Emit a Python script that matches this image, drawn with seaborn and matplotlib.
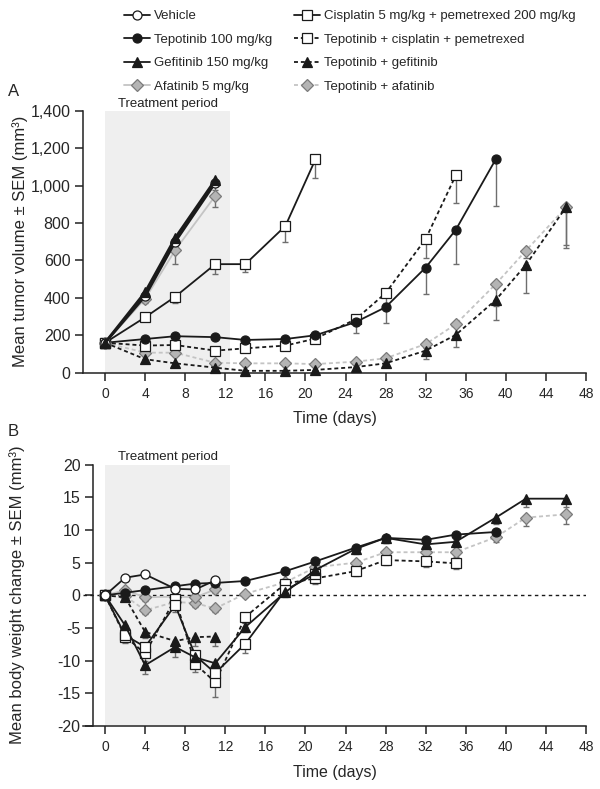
import numpy as np
import matplotlib
matplotlib.use("Agg")
import matplotlib.pyplot as plt
from matplotlib.lines import Line2D
from matplotlib.ticker import StrMethodFormatter
import seaborn as sns

sns.set_style("ticks")
plt.rcParams["font.family"] = ["Liberation Sans", "DejaVu Sans"]
plt.rcParams["axes.unicode_minus"] = False

# ---------- panel A: tumor volume (mm3), error = SEM (drawn downward) ----------
a_days_short = [0, 4, 7, 11]
a_vehicle = [160, 410, 700, 1015]
a_vehicle_err = [5, 15, 30, 40]
a_gefitinib = [160, 430, 720, 1030]
a_gefitinib_err = [5, 15, 25, 35]
a_afatinib = [160, 395, 655, 945]
a_afatinib_err = [5, 20, 75, 57]

a_days_cis = [0, 4, 7, 11, 14, 18, 21]
a_cisplatin = [160, 296, 406, 580, 580, 784, 1140]
a_cisplatin_err = [5, 15, 35, 50, 40, 85, 100]

a_days_tep = [0, 4, 7, 11, 14, 18, 21, 25, 28, 32, 35, 39]
a_tepotinib = [160, 180, 195, 190, 175, 180, 200, 270, 350, 562, 763, 1141]
a_tepotinib_err = [5, 8, 8, 8, 8, 8, 10, 60, 85, 140, 180, 250]

a_days_tepcis = [0, 4, 7, 11, 14, 18, 21, 25, 28, 32, 35]
a_tep_cis = [160, 145, 148, 118, 130, 145, 182, 285, 425, 715, 1054]
a_tep_cis_err = [5, 8, 8, 8, 8, 8, 10, 25, 55, 100, 145]

a_days_long = [0, 4, 7, 11, 14, 18, 21, 25, 28, 32, 35, 39, 42, 46]
a_tep_gef = [160, 72, 50, 27, 10, 10, 15, 30, 50, 118, 202, 389, 576, 884]
a_tep_gef_err = [5, 8, 8, 5, 3, 3, 4, 8, 12, 45, 65, 110, 150, 220]
a_tep_afa = [160, 107, 107, 53, 50, 50, 46, 59, 77, 153, 259, 474, 652, 883]
a_tep_afa_err = [5, 10, 10, 8, 5, 5, 5, 8, 10, 20, 60, 120, 40, 200]

# ---------- panel B: body weight change ----------
b_days_short = [0, 2, 4, 7, 9, 11]
b_vehicle = [0, 2.7, 3.2, 1.0, 0.9, 2.3]
b_vehicle_err = [0, 0.5, 0.6, 0.6, 0.6, 0.6]
b_afatinib = [0, 0.8, -0.3, -0.2, -0.3, 0.9]
b_afatinib_err = [0, 0.5, 0.6, 0.6, 0.6, 0.6]
b_tep_gef = [0, -0.3, -5.6, -7.0, -6.4, -6.3]
b_tep_gef_err = [0, 0.6, 1.0, 1.2, 1.3, 1.4]

b_days_cis = [0, 2, 4, 7, 9, 11, 14, 18, 21]
b_cisplatin = [0, -6.1, -7.9, -1.5, -9.2, -11.9, -7.4, 0.8, 3.3]
b_cisplatin_err = [0, 1.0, 1.2, 1.0, 1.2, 1.2, 1.5, 0.8, 0.8]

b_days_tepcis = [0, 2, 4, 7, 9, 11, 14, 18, 21, 25, 28, 32, 35]
b_tep_cis = [0, -6.3, -8.9, -0.5, -10.5, -13.3, -3.3, 1.8, 2.6, 3.7, 5.4, 5.2, 4.9]
b_tep_cis_err = [0, 1.0, 1.2, 1.0, 1.2, 2.2, 1.0, 0.8, 0.8, 0.8, 0.8, 0.8, 0.8]

b_days_tep = [0, 2, 4, 7, 9, 11, 14, 18, 21, 25, 28, 32, 35, 39]
b_tepotinib = [0, 0.4, 0.8, 1.4, 1.8, 1.9, 2.2, 3.7, 5.2, 7.3, 8.8, 8.5, 9.3, 9.7]
b_tepotinib_err = [0, 0.4, 0.5, 0.5, 0.5, 0.5, 0.5, 0.5, 0.6, 0.8, 0.8, 0.8, 0.8, 0.8]

b_days_long = [0, 2, 4, 7, 9, 11, 14, 18, 21, 25, 28, 32, 35, 39, 42, 46]
b_gefitinib = [0, -4.6, -10.7, -7.9, -9.5, -10.4, -4.85, 0.5, 3.9, 7.1, 8.8, 7.8, 8.2, 11.9, 14.8, 14.8]
b_gefitinib_err = [0, 0.8, 1.4, 1.6, 1.2, 1.0, 0.8, 0.8, 0.8, 0.8, 0.8, 0.8, 0.8, 1.0, 1.2, 1.2]
b_tep_afa = [0, -0.1, -2.3, -1.0, -1.2, -2.0, 0.25, 2.0, 4.3, 5.0, 6.6, 6.6, 6.6, 8.9, 11.9, 12.4]
b_tep_afa_err = [0, 0.5, 0.6, 0.6, 0.6, 0.6, 0.5, 0.6, 0.8, 0.8, 0.8, 0.8, 0.8, 0.8, 1.3, 1.5]

labels = ["Vehicle", "Tepotinib 100 mg/kg", "Gefitinib 150 mg/kg", "Afatinib 5 mg/kg",
          "Cisplatin 5 mg/kg + pemetrexed 200 mg/kg", "Tepotinib + cisplatin + pemetrexed",
          "Tepotinib + gefitinib", "Tepotinib + afatinib"]

BLACK = "#1a1a1a"
GREY_FACE = "#b4b4b4"
GREY_EDGE = "#7a7a7a"
GREY_LINE = "#c4c4c4"
styles = {
    "Vehicle": dict(color=BLACK, ls="-", marker="o", face="white", edge=BLACK, ms=6.5),
    "Tepotinib 100 mg/kg": dict(color=BLACK, ls="-", marker="o", face=BLACK, edge=BLACK, ms=6.5),
    "Gefitinib 150 mg/kg": dict(color=BLACK, ls="-", marker="^", face=BLACK, edge=BLACK, ms=6.5),
    "Afatinib 5 mg/kg": dict(color=GREY_LINE, ls="-", marker="D", face=GREY_FACE, edge=GREY_EDGE, ms=6),
    "Cisplatin 5 mg/kg + pemetrexed 200 mg/kg": dict(color=BLACK, ls="-", marker="s", face="white", edge=BLACK, ms=6.5),
    "Tepotinib + cisplatin + pemetrexed": dict(color=BLACK, ls=(0, (2.2, 1.6)), marker="s", face="white", edge=BLACK, ms=6.5),
    "Tepotinib + gefitinib": dict(color=BLACK, ls=(0, (2.2, 1.6)), marker="^", face=BLACK, edge=BLACK, ms=6.5),
    "Tepotinib + afatinib": dict(color=GREY_LINE, ls=(0, (2.2, 1.6)), marker="D", face=GREY_FACE, edge=GREY_EDGE, ms=6),
}


def draw(ax, days, vals, err, name, lw=1.3):
    st = styles[name]
    err = np.asarray(err, dtype=float)
    ax.errorbar(days, vals, yerr=[err, np.zeros_like(err)], fmt="none", ecolor="#6e6e6e",
                elinewidth=1.0, capsize=2.5, capthick=1.0, zorder=2, clip_on=False)
    sns.lineplot(x=days, y=vals, ax=ax, errorbar=None, color=st["color"], linestyle=st["ls"],
                 linewidth=lw, marker=st["marker"], markersize=st["ms"],
                 markerfacecolor=st["face"], markeredgecolor=st["edge"], markeredgewidth=0.9,
                 clip_on=False, zorder=3)


fig = plt.figure(figsize=(6, 7.89), dpi=100)
axA = fig.add_axes([83 / 600, 1 - 372.7 / 789, 503 / 600, 262 / 789])
axB = fig.add_axes([83 / 600, 1 - 726 / 789, 503 / 600, 261.3 / 789])

# panel A
axA.axvspan(0, 12.5, color="#efefef", zorder=0, lw=0)
draw(axA, a_days_long, a_tep_afa, a_tep_afa_err, "Tepotinib + afatinib")
draw(axA, a_days_long, a_tep_gef, a_tep_gef_err, "Tepotinib + gefitinib")
draw(axA, a_days_tepcis, a_tep_cis, a_tep_cis_err, "Tepotinib + cisplatin + pemetrexed")
draw(axA, a_days_cis, a_cisplatin, a_cisplatin_err, "Cisplatin 5 mg/kg + pemetrexed 200 mg/kg")
draw(axA, a_days_tep, a_tepotinib, a_tepotinib_err, "Tepotinib 100 mg/kg")
draw(axA, a_days_short, a_afatinib, a_afatinib_err, "Afatinib 5 mg/kg")
draw(axA, a_days_short, a_vehicle, a_vehicle_err, "Vehicle", lw=2)
draw(axA, a_days_short, a_gefitinib, a_gefitinib_err, "Gefitinib 150 mg/kg", lw=2)
axA.set_ylim(0, 1400)
axA.set_yticks(np.arange(0, 1401, 200))
axA.yaxis.set_major_formatter(StrMethodFormatter("{x:,.0f}"))
axA.text(6.25, 1404, "Treatment period", ha="center", va="bottom", fontsize=9.5, color="#222222")

# panel B
axB.axvspan(0, 12.5, ymin=0.005, ymax=1, color="#efefef", zorder=0, lw=0)
axB.axhline(0, color=BLACK, ls=(0, (2.5, 2.5)), lw=1, zorder=1)
draw(axB, b_days_long, b_tep_afa, b_tep_afa_err, "Tepotinib + afatinib")
draw(axB, b_days_short, b_afatinib, b_afatinib_err, "Afatinib 5 mg/kg")
draw(axB, b_days_short, b_tep_gef, b_tep_gef_err, "Tepotinib + gefitinib")
draw(axB, b_days_tepcis, b_tep_cis, b_tep_cis_err, "Tepotinib + cisplatin + pemetrexed")
draw(axB, b_days_cis, b_cisplatin, b_cisplatin_err, "Cisplatin 5 mg/kg + pemetrexed 200 mg/kg")
draw(axB, b_days_long, b_gefitinib, b_gefitinib_err, "Gefitinib 150 mg/kg")
draw(axB, b_days_tep, b_tepotinib, b_tepotinib_err, "Tepotinib 100 mg/kg")
draw(axB, b_days_short, b_vehicle, b_vehicle_err, "Vehicle")
axB.set_ylim(-20, 20)
axB.set_yticks(np.arange(-20, 21, 5))
axB.spines["left"].set_position(("data", -1.2))
axB.text(6.25, 20.3, "Treatment period", ha="center", va="bottom", fontsize=9.5, color="#222222")

for ax in (axA, axB):
    ax.set_xlim(-2.2, 48)
    ax.set_xticks(np.arange(0, 49, 4))
    ax.set_xlabel("")
    ax.set_ylabel("")
    sns.despine(ax=ax)
    for sp in ("left", "bottom"):
        ax.spines[sp].set_linewidth(1.1)
        ax.spines[sp].set_color("#222222")
    ax.tick_params(axis="both", direction="out", length=6, width=1.1, color="#222222")
    ax.tick_params(axis="y", labelsize=11.5, pad=3)
    ax.tick_params(axis="x", labelsize=10, pad=4)

fig.text(335 / 600, 1 - 418 / 789, "Time (days)", ha="center", va="center", fontsize=11.5)
fig.text(335 / 600, 1 - 772 / 789, "Time (days)", ha="center", va="center", fontsize=11.5)
fig.text(20 / 600, 1 - 241 / 789, "Mean tumor volume ± SEM (mm³)", rotation=90,
         ha="center", va="center", fontsize=12)
fig.text(17 / 600, 1 - 595 / 789, "Mean body weight change ± SEM (mm³)", rotation=90,
         ha="center", va="center", fontsize=12)
fig.text(8 / 600, 1 - 92 / 789, "A", ha="left", va="center", fontsize=12)
fig.text(8 / 600, 1 - 432 / 789, "B", ha="left", va="center", fontsize=12)

handles = []
for name in labels:
    st = styles[name]
    handles.append(Line2D([], [], color=st["color"], ls=st["ls"], lw=1.3, marker=st["marker"],
                          markersize=st["ms"], markerfacecolor=st["face"],
                          markeredgecolor=st["edge"], markeredgewidth=0.9))
fig.legend(handles, labels, loc="upper left", bbox_to_anchor=(124 / 600, 1 - 10 / 789),
           ncol=2, frameon=False, fontsize=9.5, handlelength=2.0, handletextpad=0.3,
           columnspacing=1.6, labelspacing=0.85, borderpad=0, borderaxespad=0, numpoints=1)

fig.savefig("out.png", dpi=100)
